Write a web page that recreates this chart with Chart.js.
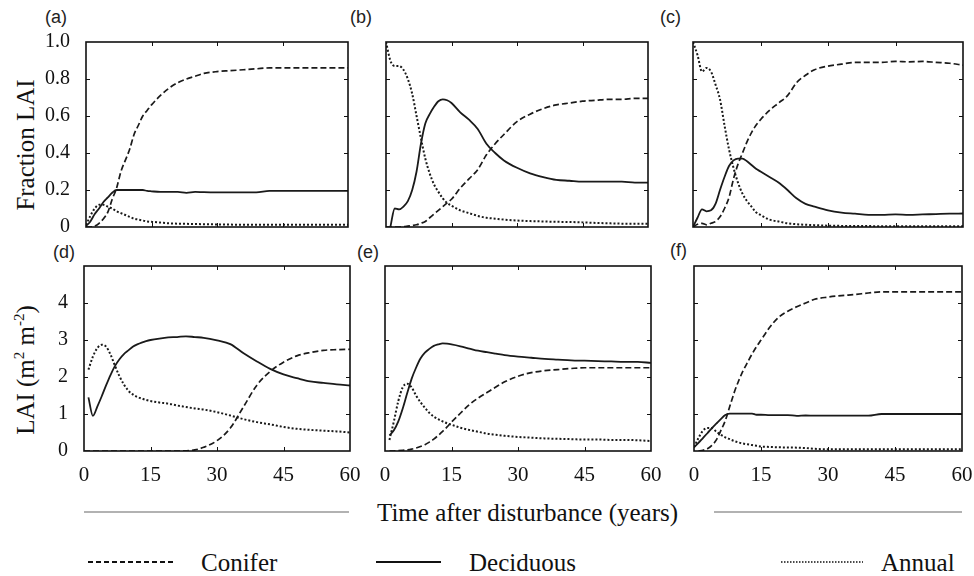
<!DOCTYPE html>
<html>
<head>
<meta charset="utf-8">
<script src="https://cdn.jsdelivr.net/npm/chart.js@4.4.1/dist/chart.umd.min.js"></script>
<style>
    body { margin: 0; background: #fff; width: 974px; height: 576px; position: relative; overflow: hidden;
           font-family: "Liberation Serif", "Times New Roman", serif; color: #111; }
    .panel { position: absolute; }
    .tag { position: absolute; font-family: "Liberation Sans", Arial, sans-serif; font-size: 18px; color: #222; line-height: 1; }
    .ytitle { position: absolute; font-size: 25px; white-space: nowrap; transform: translate(-50%, -50%) rotate(-90deg); line-height: 1; }
    .ytitle sup { font-size: 15px; }
    .txt { position: absolute; font-size: 25px; white-space: nowrap; line-height: 1; }
    svg { position: absolute; left: 0; top: 0; }
</style>
</head>
<body>

<div class="tag" style="left:45px; top:8px;">(a)</div>
<div class="tag" style="left:350px; top:8px;">(b)</div>
<div class="tag" style="left:660px; top:8px;">(c)</div>
<div class="tag" style="left:53px; top:243px;">(d)</div>
<div class="tag" style="left:357px; top:243px;">(e)</div>
<div class="tag" style="left:670px; top:241px;">(f)</div>

<div class="ytitle" style="left:25px; top:145px;">Fraction LAI</div>
<div class="ytitle" style="left:25px; top:370px;">LAI (m<sup>2</sup> m<sup>-2</sup>)</div>

<svg width="974" height="576">
    <line x1="84" y1="512" x2="349" y2="512" stroke="#666" stroke-width="1.2"/>
    <line x1="714" y1="512" x2="962" y2="512" stroke="#666" stroke-width="1.2"/>
    <line x1="88" y1="562" x2="175" y2="562" stroke="#111" stroke-width="1.8" stroke-dasharray="5 3"/>
    <line x1="376" y1="562" x2="441" y2="562" stroke="#111" stroke-width="2"/>
    <line x1="781" y1="562" x2="863" y2="562" stroke="#111" stroke-width="1.5" stroke-dasharray="1.5 1.5"/>
</svg>
<div class="txt" style="left:377px; top:500px;">Time after disturbance (years)</div>
<div class="txt" style="left:201px; top:550px;">Conifer</div>
<div class="txt" style="left:469px; top:550px;">Deciduous</div>
<div class="txt" style="left:881px; top:550px;">Annual</div>

<script>
// years after disturbance (shared x grid for all panels)
const years = [0,1,2,3,4,5,6,7,8,9,10,11,12,13,14,15,17,19,21,23,25,27,30,33,36,39,42,45,48,51,54,57,60];

const fracTicks = ['0', '0.2', '0.4', '0.6', '0.8', '1.0'];
const laiTicks = ['0', '1', '2', '3', '4'];
const yearTicks = ['0', '15', '30', '45', '60'];

// (a) fraction LAI
const aConifer = [0,0,0.005,0.02,0.045,0.08,0.15,0.21,0.3,0.36,0.42,0.5,0.55,0.6,0.63,0.66,0.71,0.75,0.78,0.8,0.815,0.83,0.84,0.845,0.85,0.855,0.86,0.86,0.86,0.86,0.86,0.86,0.86];
const aDecid   = [0.005,0.03,0.07,0.1,0.135,0.16,0.185,0.2,0.2,0.2,0.2,0.2,0.2,0.2,0.195,0.193,0.19,0.19,0.19,0.185,0.19,0.188,0.187,0.187,0.187,0.187,0.195,0.195,0.195,0.195,0.195,0.195,0.195];
const aAnnual  = [0.01,0.06,0.1,0.12,0.12,0.11,0.1,0.085,0.075,0.065,0.055,0.045,0.04,0.035,0.03,0.028,0.024,0.02,0.018,0.017,0.016,0.015,0.014,0.013,0.012,0.012,0.012,0.012,0.012,0.012,0.012,0.012,0.012];

// (b) fraction LAI
const bConifer = [0,0,0,0,0.002,0.005,0.008,0.012,0.02,0.03,0.05,0.07,0.09,0.11,0.13,0.15,0.21,0.26,0.31,0.39,0.45,0.5,0.57,0.61,0.64,0.66,0.67,0.68,0.685,0.69,0.69,0.695,0.695];
const bDecid   = [null,0,0.1,0.095,0.11,0.14,0.2,0.3,0.45,0.56,0.61,0.65,0.68,0.69,0.685,0.67,0.62,0.58,0.53,0.45,0.4,0.36,0.32,0.29,0.27,0.255,0.25,0.245,0.245,0.245,0.245,0.24,0.24];
const bAnnual  = [1.0,0.9,0.87,0.87,0.85,0.8,0.72,0.6,0.48,0.37,0.29,0.23,0.19,0.155,0.13,0.115,0.09,0.075,0.06,0.05,0.045,0.04,0.035,0.032,0.03,0.028,0.027,0.025,0.022,0.02,0.018,0.017,0.017];

// (c) fraction LAI
const cConifer = [0,0.015,0.02,0.012,0.02,0.03,0.055,0.1,0.16,0.26,0.34,0.4,0.46,0.51,0.55,0.58,0.63,0.67,0.71,0.78,0.82,0.85,0.87,0.88,0.89,0.89,0.89,0.895,0.893,0.895,0.89,0.885,0.875];
const cDecid   = [0,0.05,0.095,0.085,0.09,0.125,0.2,0.27,0.33,0.36,0.37,0.37,0.355,0.335,0.315,0.3,0.27,0.24,0.2,0.155,0.125,0.11,0.09,0.078,0.072,0.066,0.066,0.068,0.066,0.068,0.07,0.072,0.073];
const cAnnual  = [1.0,0.93,0.84,0.86,0.84,0.77,0.69,0.55,0.42,0.32,0.24,0.18,0.14,0.11,0.08,0.065,0.04,0.03,0.02,0.015,0.012,0.01,0.007,0.006,0.005,0.005,0.004,0.004,0.004,0.004,0.004,0.004,0.004];

// (d) LAI
const dConifer = [0,0,0,0,0,0,0,0,0,0,0,0,0,0,0,0,0,0,0,0.005,0.03,0.1,0.28,0.62,1.2,1.78,2.15,2.4,2.57,2.66,2.72,2.74,2.75];
const dDecid   = [null,1.45,0.95,1.2,1.48,1.78,2.06,2.3,2.48,2.62,2.72,2.82,2.88,2.93,2.97,3.0,3.04,3.07,3.08,3.1,3.08,3.06,2.99,2.89,2.64,2.42,2.22,2.07,1.97,1.88,1.84,1.8,1.77];
const dAnnual  = [null,2.2,2.55,2.78,2.87,2.82,2.6,2.3,2.02,1.8,1.63,1.53,1.46,1.42,1.38,1.35,1.31,1.28,1.23,1.19,1.15,1.12,1.05,0.96,0.86,0.78,0.72,0.65,0.6,0.57,0.55,0.53,0.5];

// (e) LAI
const eConifer = [null,0,0,0.01,0.02,0.03,0.05,0.08,0.12,0.17,0.24,0.32,0.42,0.53,0.65,0.78,1.02,1.25,1.43,1.58,1.73,1.87,2.02,2.12,2.17,2.2,2.23,2.25,2.25,2.25,2.25,2.25,2.25];
const eDecid   = [null,0.42,0.56,0.8,1.15,1.56,1.95,2.25,2.5,2.66,2.76,2.84,2.88,2.91,2.9,2.88,2.83,2.77,2.71,2.67,2.63,2.59,2.55,2.52,2.49,2.47,2.45,2.44,2.43,2.42,2.41,2.41,2.38];
const eAnnual  = [null,0.3,0.8,1.35,1.72,1.82,1.72,1.5,1.32,1.17,1.03,0.93,0.86,0.8,0.75,0.71,0.63,0.57,0.52,0.47,0.44,0.41,0.38,0.36,0.34,0.33,0.32,0.31,0.31,0.3,0.3,0.29,0.27];

// (f) LAI
const fConifer = [null,0,0.02,0.06,0.15,0.3,0.55,0.82,1.2,1.58,1.9,2.17,2.4,2.62,2.82,3.0,3.35,3.62,3.78,3.9,4.0,4.1,4.16,4.2,4.23,4.27,4.3,4.3,4.3,4.3,4.3,4.3,4.3];
const fDecid   = [0.1,0.22,0.35,0.48,0.62,0.74,0.86,0.97,1.01,1.01,1.01,1.01,1.01,1.01,0.98,0.98,0.97,0.97,0.97,0.95,0.96,0.955,0.955,0.955,0.955,0.955,1.0,1.0,1.0,1.0,1.0,1.0,1.0];
const fAnnual  = [0.1,0.35,0.55,0.62,0.62,0.52,0.44,0.37,0.32,0.27,0.23,0.2,0.18,0.16,0.14,0.12,0.11,0.1,0.095,0.09,0.08,0.06,0.045,0.045,0.045,0.045,0.045,0.045,0.045,0.045,0.045,0.045,0.045];

const PAD_L = 60, PAD_T = 10, PAD_R = 12, PAD_B = 30;

// plot-area boxes for the six panels
const panels = [
    { left: 86,  top: 42,  w: 262, h: 185, max: 1, labels: fracTicks, yLabels: true,  xLabels: false, series: [aConifer, aDecid, aAnnual] },
    { left: 386, top: 42,  w: 262, h: 185, max: 1, labels: fracTicks, yLabels: false, xLabels: false, series: [bConifer, bDecid, bAnnual] },
    { left: 693, top: 42,  w: 270, h: 185, max: 1, labels: fracTicks, yLabels: false, xLabels: false, series: [cConifer, cDecid, cAnnual] },
    { left: 84,  top: 266, w: 266, h: 185, max: 5, labels: laiTicks,  yLabels: true,  xLabels: true,  series: [dConifer, dDecid, dAnnual] },
    { left: 385, top: 266, w: 266, h: 185, max: 5, labels: laiTicks,  yLabels: false, xLabels: true,  series: [eConifer, eDecid, eAnnual] },
    { left: 694, top: 266, w: 268, h: 185, max: 5, labels: laiTicks,  yLabels: false, xLabels: true,  series: [fConifer, fDecid, fAnnual] }
];

const styles = [
    { label: 'Conifer',   borderDash: [6, 3], borderWidth: 1.7 },
    { label: 'Deciduous', borderDash: [],     borderWidth: 1.8 },
    { label: 'Annual',    borderDash: [2, 2], borderWidth: 2 }
];

// box round the plot with inward tick marks on all four sides
const frame = {
    id: 'frame',
    afterDatasetsDraw(chart) {
        const { ctx, chartArea: a, scales: { x, y } } = chart;
        ctx.save();
        ctx.strokeStyle = '#111';
        ctx.lineWidth = 1;
        ctx.beginPath();
        x.ticks.forEach(t => {
            if (t.value <= x.min || t.value >= x.max) return;
            const px = Math.round(x.getPixelForValue(t.value)) + 0.5;
            ctx.moveTo(px, a.bottom); ctx.lineTo(px, a.bottom - 4);
            ctx.moveTo(px, a.top); ctx.lineTo(px, a.top + 4);
        });
        y.ticks.forEach(t => {
            if (t.value <= y.min || t.value >= y.max) return;
            const py = Math.round(y.getPixelForValue(t.value)) + 0.5;
            ctx.moveTo(a.left, py); ctx.lineTo(a.left + 4, py);
            ctx.moveTo(a.right, py); ctx.lineTo(a.right - 4, py);
        });
        ctx.stroke();
        ctx.lineWidth = 1.6;
        ctx.strokeRect(a.left, a.top, a.right - a.left, a.bottom - a.top);
        ctx.restore();
    }
};

function fixSize(size, horizontal) {
    return scale => {
        if (horizontal) scale.height = size; else scale.width = size;
        scale.paddingLeft = scale.paddingRight = scale.paddingTop = scale.paddingBottom = 0;
    };
}

panels.forEach(p => {
    const holder = document.createElement('div');
    holder.className = 'panel';
    holder.style.left = (p.left - PAD_L) + 'px';
    holder.style.top = (p.top - PAD_T) + 'px';
    const canvas = document.createElement('canvas');
    canvas.width = p.w + PAD_L + PAD_R;
    canvas.height = p.h + PAD_T + PAD_B;
    holder.appendChild(canvas);
    document.body.appendChild(holder);

    new Chart(canvas, {
        type: 'line',
        data: {
            labels: years,
            datasets: p.series.map((vals, i) => ({
                label: styles[i].label,
                data: vals.map((v, k) => ({ x: years[k], y: v })),
                borderColor: '#1a1a1a',
                borderWidth: styles[i].borderWidth,
                borderDash: styles[i].borderDash,
                pointRadius: 0,
                fill: false,
                spanGaps: false,
                cubicInterpolationMode: 'monotone'
            }))
        },
        options: {
            responsive: false,
            animation: false,
            devicePixelRatio: 1,
            layout: { padding: { left: 0, top: PAD_T, right: PAD_R, bottom: 0 } },
            plugins: { legend: { display: false }, tooltip: { enabled: false } },
            scales: {
                x: {
                    type: 'linear', min: 0, max: 60,
                    afterFit: fixSize(PAD_B, true),
                    grid: { display: false },
                    border: { display: false },
                    ticks: {
                        display: p.xLabels, stepSize: 15, padding: 4, color: '#111',
                        maxRotation: 0, autoSkip: false,
                        font: { family: '"Liberation Serif", serif', size: 21 },
                        callback: (v, i) => yearTicks[i] ?? ''
                    }
                },
                y: {
                    type: 'linear', min: 0, max: p.max,
                    afterFit: fixSize(PAD_L, false),
                    grid: { display: false },
                    border: { display: false },
                    ticks: {
                        display: p.yLabels, stepSize: p.max === 1 ? 0.2 : 1, padding: 8, color: '#111',
                        autoSkip: false,
                        font: { family: '"Liberation Serif", serif', size: 20 },
                        callback: (v, i) => p.labels[i] ?? ''
                    }
                }
            }
        },
        plugins: [frame]
    });
});
</script>
</body>
</html>
